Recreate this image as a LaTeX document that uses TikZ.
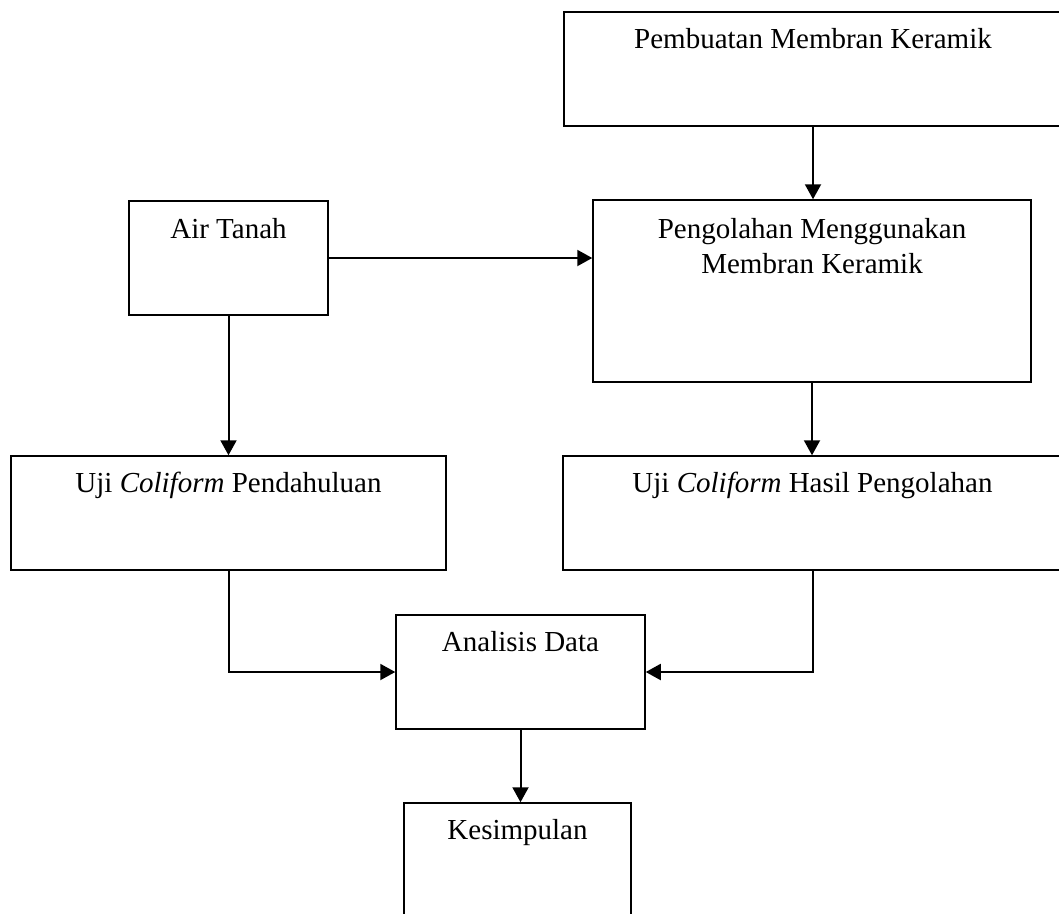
\documentclass[tikz,border=0pt]{standalone}
\usepackage{fontspec}
\setmainfont{Liberation Serif}
\usetikzlibrary{arrows.meta}
\begin{document}
\begin{tikzpicture}[x=1pt,y=-1pt,
  font=\fontsize{29}{34}\selectfont,
  box/.style={draw=black, line width=1.5pt, rectangle, inner sep=0pt, fill=white},
  lbl/.style={anchor=base, inner sep=0pt},
  conn/.style={line width=2pt, -{Triangle[length=15pt,width=16pt]}}]
\clip (0,0) rectangle (1059,913);
\fill[white] (0,0) rectangle (1059,913);
% boxes (center positions; sizes as minimum width / height)
\node[box, minimum width=498pt, minimum height=114pt,
  label={[lbl,yshift=-37pt]north:Pembuatan Membran Keramik}] (top) at (813,69) {};
\node[box, minimum width=199pt, minimum height=114pt,
  label={[lbl,yshift=-38pt]north:Air Tanah}] (air) at (228.5,258) {};
\node[box, minimum width=438pt, minimum height=182pt,
  label={[lbl,yshift=-39pt]north:Pengolahan Menggunakan},
  label={[lbl,yshift=-74pt]north:Membran Keramik}] (proc) at (812,291) {};
\node[box, minimum width=435pt, minimum height=114pt,
  label={[lbl,yshift=-37pt]north:Uji \textit{Coliform} Pendahuluan}] (pend) at (228.5,513) {};
\node[box, minimum width=499pt, minimum height=114pt,
  label={[lbl,yshift=-37pt]north:Uji \textit{Coliform} Hasil Pengolahan}] (hasil) at (812.5,513) {};
\node[box, minimum width=249pt, minimum height=114pt,
  label={[lbl,yshift=-37pt]north:Analisis Data}] (ana) at (520.5,672) {};
\node[box, minimum width=227pt, minimum height=160pt,
  label={[lbl,yshift=-37pt]north:Kesimpulan}] (kes) at (517.5,883) {};
% connectors
\draw[conn] (top.south) -- (top.south |- proc.north);
\draw[conn] (air.east) -- (air.east -| proc.west);
\draw[conn] (air.south) -- (air.south |- pend.north);
\draw[conn] (proc.south) -- (proc.south |- hasil.north);
\draw[conn] (pend.south) |- (ana.west);
\draw[conn] (hasil.south) |- (ana.east);
\draw[conn] (ana.south) -- (ana.south |- kes.north);
\end{tikzpicture}
\end{document}
